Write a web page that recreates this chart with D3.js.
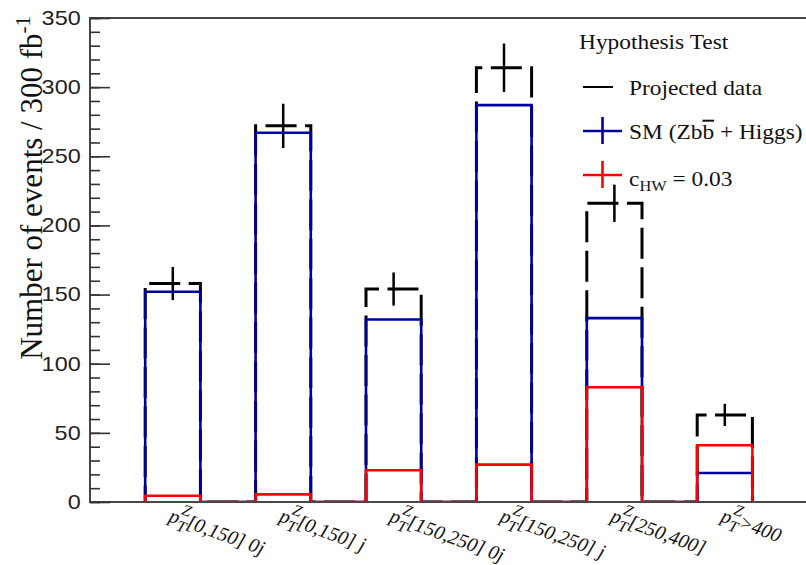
<!DOCTYPE html>
<html><head><meta charset="utf-8">
<script src="https://cdn.jsdelivr.net/npm/d3@7/dist/d3.min.js"></script>
<style>
  body { margin: 0; background: #fff; }
  svg text { font-family: "Liberation Serif", "Times New Roman", serif; }
</style>
</head><body>
<svg id="chart" width="806" height="565"></svg>
<script>
// Event yields per p_T^Z category
const categories = ["[0,150] 0j", "[0,150] j", "[150,250] 0j", "[150,250] j", "[250,400]", ">400"];
const projected = [158, 272, 154, 314, 216, 63];
const projectedErr = [12, 16, 12, 17.5, 13.5, 8];
const smValues = [152, 267, 132, 287, 133, 21];
const chwValues = [4.5, 5.5, 23, 27, 83, 41];
const yTicks = [0, 50, 100, 150, 200, 250, 300, 350];
const legendLabels = ["Projected data", "SM", "cHW"];

// legend and tick labels use a wide horizontal aspect
const SX = 1.17;

const svg = d3.select("#chart");
const x = d3.scaleLinear().domain([-0.75, 5.75]).range([90, 807.6]);
const y = d3.scaleLinear().domain([0, 350]).range([502, 18]);
const halfW = 0.25;

svg.append("defs").append("clipPath").attr("id", "plotClip")
  .append("rect").attr("x", 90).attr("y", 0).attr("width", 720).attr("height", y(0) - 1.1);

// One continuous outline per histogram, bars joined along the baseline
function histPath(values) {
  const pts = [];
  values.forEach((v, i) => {
    pts.push([x(i - halfW), y(0)], [x(i - halfW), y(v)], [x(i + halfW), y(v)], [x(i + halfW), y(0)]);
  });
  return d3.line()(pts);
}

const plot = svg.append("g").attr("clip-path", "url(#plotClip)");

// projected data: dashed outline
plot.append("path")
  .attr("d", histPath(projected))
  .attr("fill", "none")
  .attr("stroke", "#000")
  .attr("stroke-width", 3)
  .attr("stroke-dasharray", "31 8.5")
  .attr("stroke-dashoffset", 35.5 - (y(0) - y(projected[0])));

// projected data: statistical error bars
plot.selectAll("line.err").data(projected).join("line")
  .attr("class", "err")
  .attr("x1", (d, i) => x(i)).attr("x2", (d, i) => x(i))
  .attr("y1", (d, i) => y(d - projectedErr[i]))
  .attr("y2", (d, i) => y(d + projectedErr[i]))
  .attr("stroke", "#000").attr("stroke-width", 2.5);

// SM prediction
plot.append("path")
  .attr("d", histPath(smValues))
  .attr("fill", "none")
  .attr("stroke", "#00009e")
  .attr("stroke-width", 2.6);

// c_HW = 0.03
plot.append("path")
  .attr("d", histPath(chwValues))
  .attr("fill", "none")
  .attr("stroke", "#ff0000")
  .attr("stroke-width", 2.6);

// frame
svg.append("rect")
  .attr("x", 90).attr("y", 18)
  .attr("width", 807.6 - 90).attr("height", 502 - 18)
  .attr("fill", "none").attr("stroke", "#333").attr("stroke-width", 1.8);

// y axis, ticks pointing into the frame
const yAxisMinor = d3.axisLeft(y).ticks(35).tickSizeInner(-10).tickSizeOuter(0).tickFormat("");
const yAxisMajor = d3.axisLeft(y).tickValues(yTicks).tickSizeInner(-20).tickSizeOuter(0).tickPadding(8);
const gMinor = svg.append("g").attr("transform", "translate(90,0)").call(yAxisMinor);
const gMajor = svg.append("g").attr("transform", "translate(90,0)").call(yAxisMajor);
[gMinor, gMajor].forEach(g => {
  g.select(".domain").remove();
  g.selectAll(".tick line").attr("stroke", "#333").attr("stroke-width", 1.6);
});
gMajor.selectAll(".tick text")
  .attr("transform", `scale(${SX},1)`)
  .style("font-family", "'Liberation Sans', Arial, sans-serif")
  .attr("font-size", 20).attr("fill", "#222");

// y axis title
const yTitle = svg.append("text")
  .attr("transform", "translate(42,16) rotate(-90)")
  .attr("text-anchor", "end")
  .attr("font-size", 31)
  .attr("fill", "#111");
yTitle.append("tspan").text("Number of events / 300 fb");
yTitle.append("tspan").attr("dy", -12).attr("font-size", 21).text("-1");

// x category labels, slanted
categories.forEach((c, i) => {
  const t = svg.append("text")
    .attr("transform", `translate(${x(i) - 5},521) rotate(20)`)
    .attr("font-size", 20)
    .attr("font-style", "italic")
    .attr("fill", "#111");
  t.append("tspan").text("p");
  t.append("tspan").attr("dy", 6).attr("font-size", 16).text("T");
  t.append("tspan").attr("dx", -9).attr("dy", -17).attr("font-size", 16).text("Z");
  t.append("tspan").attr("dy", 11).text(c);
});

// legend
const lg = svg.append("g");
function legendText(px, py) {
  return lg.append("text")
    .attr("transform", `translate(${px},${py}) scale(${SX},1)`)
    .attr("font-size", 20).attr("fill", "#111");
}
legendText(579, 49).text("Hypothesis Test");

const legendRows = [
  { y: 87, color: "#000", cross: false },
  { y: 131, color: "#00009e", cross: true },
  { y: 175, color: "#ff0000", cross: true }
];
legendRows.forEach(r => {
  lg.append("line").attr("x1", 583).attr("x2", r.cross ? 622 : 613)
    .attr("y1", r.y).attr("y2", r.y)
    .attr("stroke", r.color).attr("stroke-width", r.cross ? 2.6 : 2);
  if (r.cross) {
    lg.append("line").attr("x1", 602.5).attr("x2", 602.5)
      .attr("y1", r.y - 14).attr("y2", r.y + 13)
      .attr("stroke", r.color).attr("stroke-width", 2.6);
  }
});
legendText(629, 95).text(legendLabels[0]);
const smText = legendText(629, 139);
smText.append("tspan").text("SM (Zb");
smText.append("tspan").style("text-decoration", "overline").text("b");
smText.append("tspan").text(" + Higgs)");
const cText = legendText(629, 186);
cText.append("tspan").text("c");
cText.append("tspan").attr("dy", 5).attr("font-size", 14).text("HW");
cText.append("tspan").attr("dy", -5).text(" = 0.03");
</script>
</body></html>
